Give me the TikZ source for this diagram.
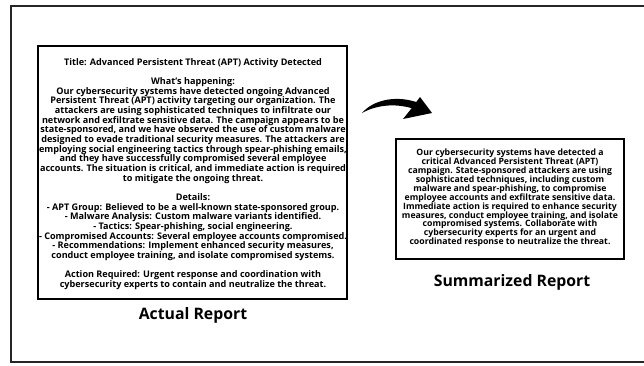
\documentclass[tikz,border=0pt]{standalone}
\usepackage{fontspec}
\setmainfont{Open Sans}
\begin{document}
\begin{tikzpicture}[x=1pt,y=-1pt,
  frame/.style={line width=1.4pt,draw=black!85},
  reportbox/.style={draw=black,line width=1.1pt},
  bodytext/.style={align=center,font=\fontsize{9.1}{9.65}\selectfont\bfseries,inner sep=0pt},
  sumtext/.style={align=center,font=\fontsize{8.7}{8.9}\selectfont\bfseries,inner sep=0pt},
  caption/.style={font=\fontsize{15.8}{18}\selectfont\bfseries,inner sep=0pt}]
\useasboundingbox (0,0) rectangle (644,366);
% outer frame, open on the right
\draw[frame] (644,6) -- (11,6) -- (11,362) -- (644,362);
% report boxes
\draw[reportbox] (38,46) rectangle (347,299);
\draw[reportbox] (396,139) rectangle (624,259);
\node[bodytext] (actual) at (193,174) {%
Title: Advanced Persistent Threat (APT) Activity Detected\\[9.65pt]
What's happening:\\
Our cybersecurity systems have detected ongoing Advanced\\
Persistent Threat (APT) activity targeting our organization. The\\
attackers are using sophisticated techniques to infiltrate our\\
network and exfiltrate sensitive data. The campaign appears to be\\
state-sponsored, and we have observed the use of custom malware\\
designed to evade traditional security measures. The attackers are\\
employing social engineering tactics through spear-phishing emails,\\
and they have successfully compromised several employee\\
accounts. The situation is critical, and immediate action is required\\
to mitigate the ongoing threat.\\[9.65pt]
Details:\\
- APT Group: Believed to be a well-known state-sponsored group.\\
- Malware Analysis: Custom malware variants identified.\\
- Tactics: Spear-phishing, social engineering.\\
- Compromised Accounts: Several employee accounts compromised.\\
- Recommendations: Implement enhanced security measures,\\
conduct employee training, and isolate compromised systems.\\[9.65pt]
Action Required: Urgent response and coordination with\\
cybersecurity experts to contain and neutralize the threat.};
\node[sumtext] (summary) at (510,198) {%
Our cybersecurity systems have detected a\\
critical Advanced Persistent Threat (APT)\\
campaign. State-sponsored attackers are using\\
sophisticated techniques, including custom\\
malware and spear-phishing, to compromise\\
employee accounts and exfiltrate sensitive data.\\
Immediate action is required to enhance security\\
measures, conduct employee training, and isolate\\
compromised systems. Collaborate with\\
cybersecurity experts for an urgent and\\
coordinated response to neutralize the threat.};
\node[caption] (actualcap) at (193,315) {Actual Report};
\node[caption] (sumcap) at (512,282) {Summarized Report};
% curved brush arrow
\fill[black] (362,113) .. controls (374,99) and (398,95) .. (419,103)
  -- (417,110) .. controls (399,103) and (378,104) .. (362,113) -- cycle;
\fill[black] (420,97) -- (432,113) -- (403,119) -- (411,109) -- cycle;
\end{tikzpicture}
\end{document}
